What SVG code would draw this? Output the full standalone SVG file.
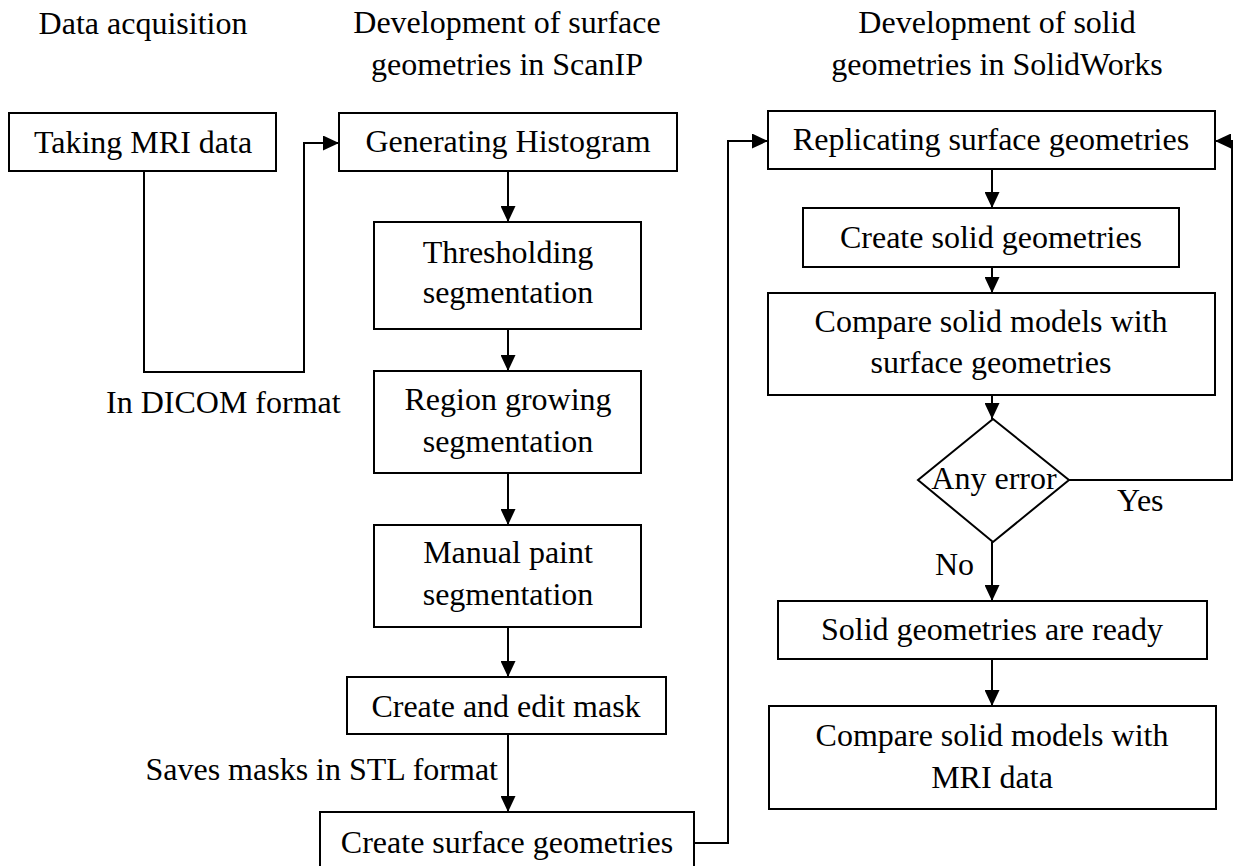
<svg xmlns="http://www.w3.org/2000/svg" width="1234" height="866" viewBox="0 0 1234 866">
<style>
text{font-family:"Liberation Serif","Times New Roman",serif;font-size:32px;fill:#000}
.c{text-anchor:middle}
.box{fill:#fff;stroke:#000;stroke-width:2}
.ln{fill:none;stroke:#000;stroke-width:2}
</style>
<defs>
<marker id="ah" markerUnits="userSpaceOnUse" markerWidth="16" markerHeight="15" refX="16" refY="7.5" orient="auto">
<path d="M0,0 L16,7.5 L0,15 z" fill="#000"/>
</marker>
</defs>
<rect width="1234" height="866" fill="#fff"/>
<g id="headers">
<text class="c" x="143" y="34">Data acquisition</text>
<text class="c" x="507" y="33">Development of surface</text>
<text class="c" x="507" y="75">geometries in ScanIP</text>
<text class="c" x="997" y="33">Development of solid</text>
<text class="c" x="997" y="75">geometries in SolidWorks</text>
</g>
<g id="connectors">
<polyline class="ln" points="144,171 144,372 304,372 304,143 339,143" marker-end="url(#ah)"/>
<line class="ln" x1="508" y1="171" x2="508" y2="222" marker-end="url(#ah)"/>
<line class="ln" x1="508" y1="329" x2="508" y2="371" marker-end="url(#ah)"/>
<line class="ln" x1="508" y1="473" x2="508" y2="525" marker-end="url(#ah)"/>
<line class="ln" x1="508" y1="627" x2="508" y2="677" marker-end="url(#ah)"/>
<line class="ln" x1="508" y1="734" x2="508" y2="812" marker-end="url(#ah)"/>
<polyline class="ln" points="694,843 728,843 728,141 768,141" marker-end="url(#ah)"/>
<line class="ln" x1="992" y1="169" x2="992" y2="208" marker-end="url(#ah)"/>
<line class="ln" x1="992" y1="267" x2="992" y2="293" marker-end="url(#ah)"/>
<line class="ln" x1="992" y1="395" x2="992" y2="419" marker-end="url(#ah)"/>
<line class="ln" x1="992" y1="542" x2="992" y2="601" marker-end="url(#ah)"/>
<polyline class="ln" points="1069,480 1232,480 1232,141 1215,141" marker-end="url(#ah)"/>
<line class="ln" x1="992" y1="659" x2="992" y2="706" marker-end="url(#ah)"/>
<text x="106" y="413">In DICOM format</text>
<text x="498" y="780" text-anchor="end">Saves masks in STL format</text>
<text x="1117" y="511">Yes</text>
<text x="935" y="575">No</text>
</g>
<g id="taking-mri">
<rect class="box" x="9" y="113" width="267" height="58"/>
<text class="c" x="143" y="153">Taking MRI data</text>
</g>
<g id="generating-histogram">
<rect class="box" x="339" y="113" width="338" height="58"/>
<text class="c" x="508" y="152">Generating Histogram</text>
</g>
<g id="thresholding">
<rect class="box" x="374" y="222" width="267" height="107"/>
<text class="c" x="508" y="263">Thresholding</text>
<text class="c" x="508" y="303">segmentation</text>
</g>
<g id="region-growing">
<rect class="box" x="374" y="371" width="267" height="102"/>
<text class="c" x="508" y="410">Region growing</text>
<text class="c" x="508" y="452">segmentation</text>
</g>
<g id="manual-paint">
<rect class="box" x="374" y="525" width="267" height="102"/>
<text class="c" x="508" y="563">Manual paint</text>
<text class="c" x="508" y="605">segmentation</text>
</g>
<g id="create-mask">
<rect class="box" x="347" y="677" width="319" height="57"/>
<text class="c" x="506" y="717">Create and edit mask</text>
</g>
<g id="create-surface">
<rect class="box" x="320" y="812" width="374" height="60"/>
<text class="c" x="507" y="853">Create surface geometries</text>
</g>
<g id="replicating">
<rect class="box" x="768" y="111" width="447" height="58"/>
<text class="c" x="991" y="150">Replicating surface geometries</text>
</g>
<g id="create-solid">
<rect class="box" x="803" y="208" width="376" height="59"/>
<text class="c" x="991" y="248">Create solid geometries</text>
</g>
<g id="compare-surface">
<rect class="box" x="768" y="293" width="447" height="102"/>
<text class="c" x="991" y="332">Compare solid models with</text>
<text class="c" x="991" y="373">surface geometries</text>
</g>
<g id="any-error">
<path class="box" d="M993,419 L1069,480 L993,542 L918,480 z"/>
<text class="c" x="994" y="489">Any error</text>
</g>
<g id="solid-ready">
<rect class="box" x="778" y="601" width="429" height="58"/>
<text class="c" x="992" y="640">Solid geometries are ready</text>
</g>
<g id="compare-mri">
<rect class="box" x="769" y="706" width="447" height="103"/>
<text class="c" x="992" y="746">Compare solid models with</text>
<text class="c" x="992" y="788">MRI data</text>
</g>
</svg>
